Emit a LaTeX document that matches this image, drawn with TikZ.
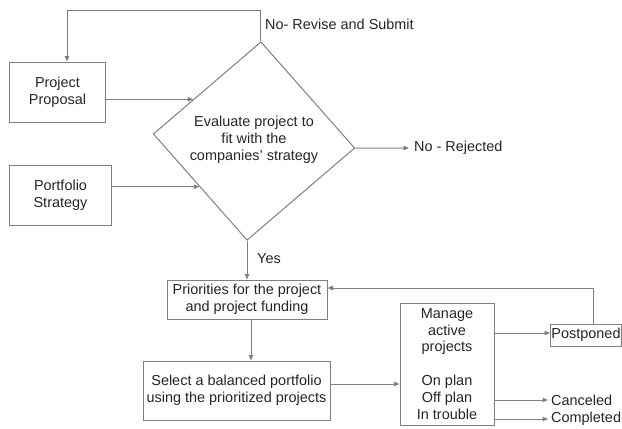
\documentclass[tikz,border=0pt]{standalone}
\usepackage{fontspec}
\setmainfont{Liberation Sans}
\usetikzlibrary{shapes.geometric,arrows.meta,calc}
\definecolor{linec}{HTML}{808080}
\definecolor{textc}{HTML}{262626}
\begin{document}
\begin{tikzpicture}[x=1bp,y=-1bp,
  every node/.style={font=\fontsize{14.5}{17}\selectfont, text=textc},
  box/.style={draw=linec, line width=1bp, align=center, inner sep=1bp},
  lbl/.style={anchor=west, inner sep=0pt},
  arr/.style={draw=linec, line width=1bp, -{Triangle[length=5.5bp,width=4.5bp]}},
  ln/.style={draw=linec, line width=1bp}]
\useasboundingbox (0,0) rectangle (622,428);
\fill[white] (0,0) rectangle (622,428);

\node[box, minimum width=95bp, minimum height=60bp] (pp) at (57.5,92) {Project\\Proposal};
\node[box, minimum width=101bp, minimum height=60bp] (ps) at (60.5,195) {Portfolio\\Strategy};
\node[diamond, draw=linec, line width=1bp, rotate=-4, minimum width=202bp, minimum height=199bp, inner sep=0pt] (dia) at (254,141) {};
\node[align=center, inner sep=0pt] (diat) at (254,140) {Evaluate project to\\fit with the\\companies' strategy};
\node[lbl] (rev) at (265,24) {No- Revise and Submit};
\node[lbl] (rej) at (414,148) {No - Rejected};
\node[lbl] (yes) at (257,259) {Yes};
\node[box, minimum width=160bp, minimum height=39bp] (prio) at (247,299.5) {Priorities for the project\\and project funding};
\node[box, minimum width=187bp, minimum height=59bp] (sel) at (236.5,390.5) {Select a balanced portfolio\\using the prioritized projects};
\node[box, minimum width=94bp, minimum height=122bp] (man) at (447,364) {Manage\\active\\projects\\\mbox{}\\On plan\\Off plan\\In trouble};
\node[box, minimum width=71bp, minimum height=22bp, inner sep=0pt] (post) at (586,335) {Postponed};
\node[lbl] (can) at (551,400) {Canceled};
\node[lbl] (comp) at (551,419) {Completed};

\coordinate (a1) at ($(dia.west)!0.374!(dia.north)$);
\coordinate (a2) at ($(dia.west)!0.495!(dia.south)$);
\coordinate (top) at (0,10);
\coordinate (s1) at ([yshift=6.5bp]sel.east);
\coordinate (p1) at ([yshift=2bp]post.west);
\coordinate (p2) at ([xshift=7bp]post.north);
\coordinate (q1) at ([yshift=11.5bp]prio.east);
\coordinate (q2) at ([xshift=4bp]prio.south);
\coordinate (c1) at ([xshift=-3bp]can.west);
\coordinate (c2) at ([xshift=-3bp]comp.west);
\coordinate (r1) at ([xshift=-5bp]rej.west);
\coordinate (t1) at ([xshift=9.5bp]pp.north);

\draw[arr] (dia.north) -- (dia.north |- top) -| (t1);
\draw[arr] (pp.east |- a1) -- (a1);
\draw[arr] (ps.east |- a2) -- (a2);
\draw[arr] (dia.east) -- (r1);
\draw[arr] (dia.south) -- (dia.south |- prio.north);
\draw[arr] (q2) -- (q2 |- sel.north);
\draw[arr] (s1) -- (man.west |- s1);
\draw[arr] (man.east |- p1) -- (p1);
\draw[arr] (man.east |- c1) -- (c1);
\draw[arr] (man.east |- c2) -- (c2);
\draw[arr] (p2) |- (q1);
\end{tikzpicture}
\end{document}
